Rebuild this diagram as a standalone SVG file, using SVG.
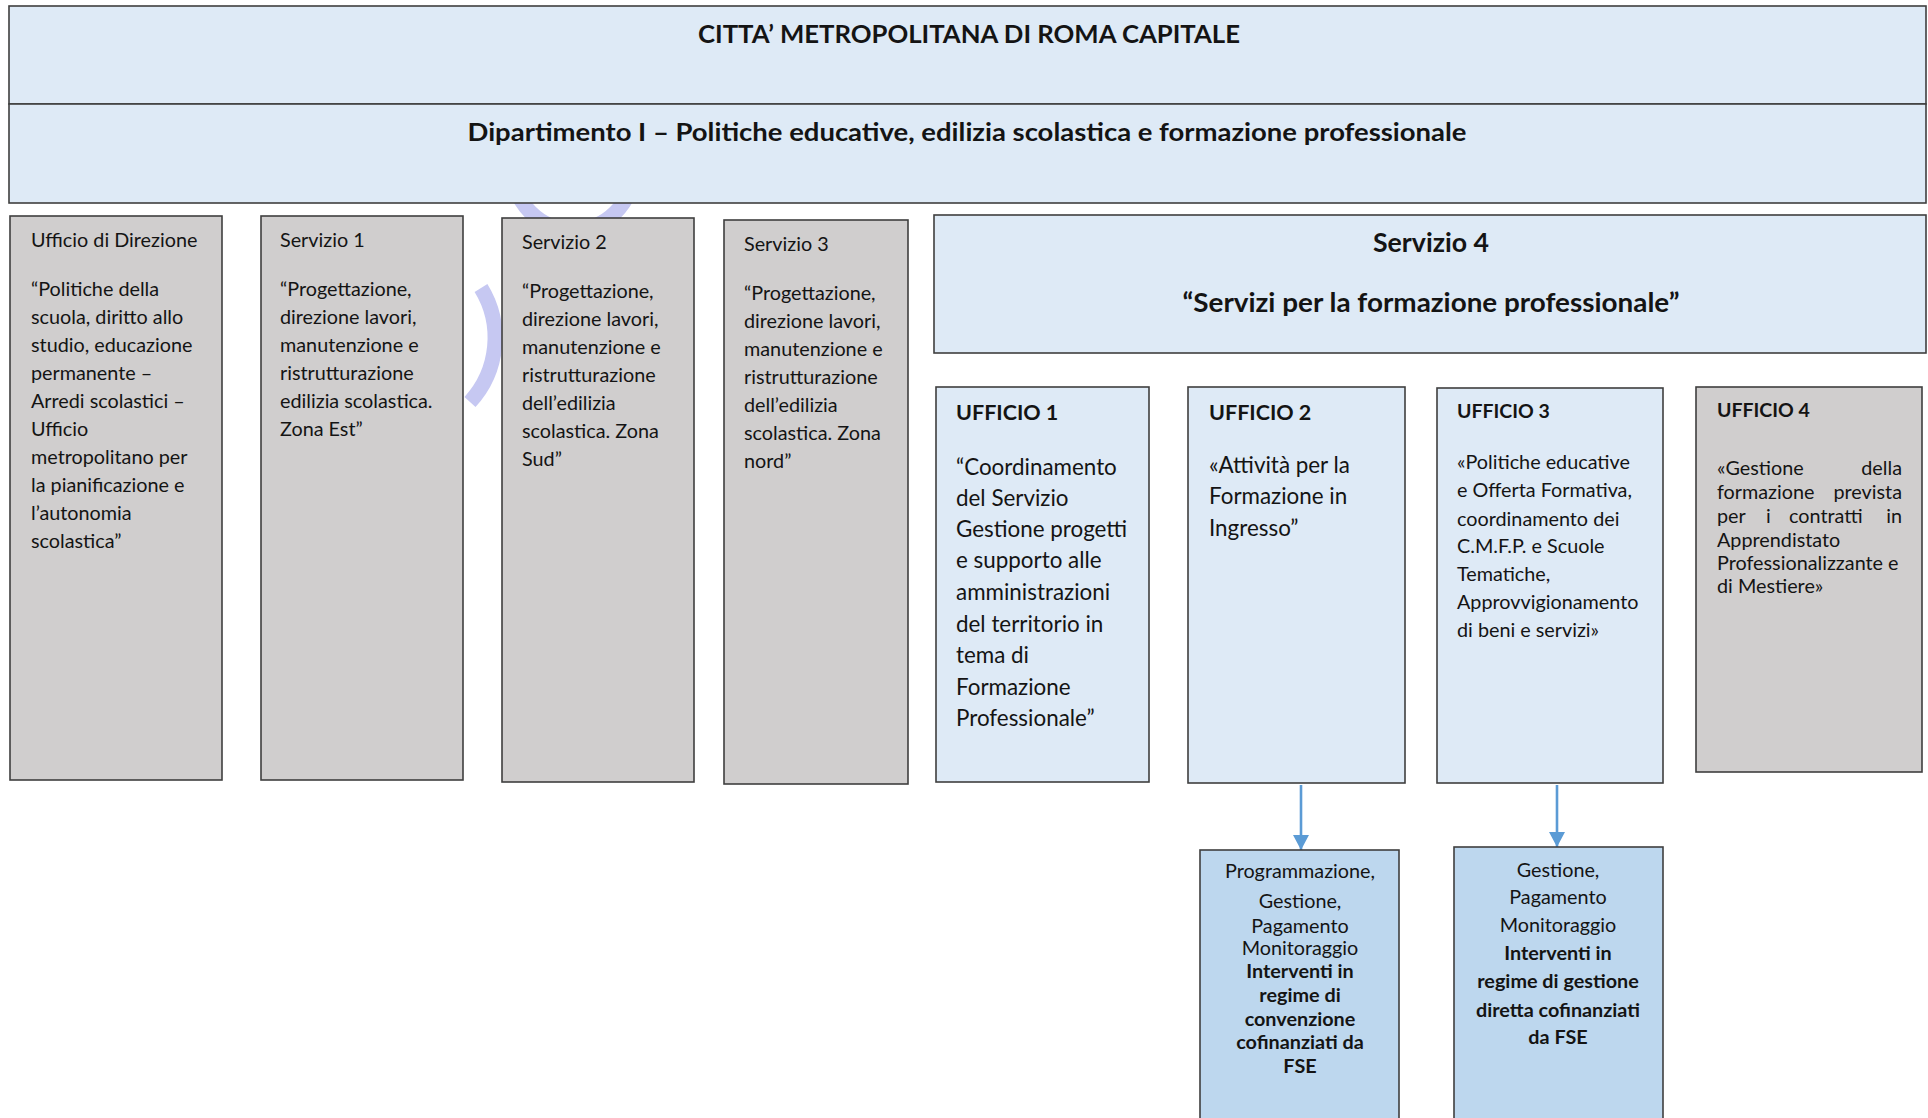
<svg xmlns="http://www.w3.org/2000/svg" width="1928" height="1118" viewBox="0 0 1928 1118">
<defs>
<style>
.box{stroke:#3f3f3f;stroke-width:1.6}
.blue{fill:#DEEAF6}
.gray{fill:#D0CECE}
.dblue{fill:#BDD7EE}
text{font-family:Lato,"Open Sans",sans-serif;fill:#141414}
.t{font-size:19.8px}
.tl{font-size:22.4px}
.b{font-weight:700}
.c{text-anchor:middle}
.e{text-anchor:end}
.wm{fill:none;stroke:#C6C8F2;stroke-width:15}
.conn{stroke:#5B9BD5;stroke-width:2.6;fill:none}
</style>
<marker id="ah" markerWidth="16" markerHeight="16" refX="15" refY="8" orient="auto" markerUnits="userSpaceOnUse">
<path d="M0,0 L15,8 L0,16 Z" fill="#5B9BD5"/>
</marker>
</defs>
<rect width="1928" height="1118" fill="#ffffff"/>
<g id="watermark">
<path class="wm" d="M481,288 A95,95 0 0 1 470,402"/>
<circle class="wm" cx="573" cy="170" r="60"/>
</g>
<g id="citta">
<rect class="box blue" x="9" y="6" width="1917" height="98"/>
<text class="b c" x="969" y="43" font-size="25" textLength="542" lengthAdjust="spacingAndGlyphs">CITTA’ METROPOLITANA DI ROMA CAPITALE</text>
</g>
<g id="dipartimento">
<rect class="box blue" x="9" y="104" width="1917" height="99"/>
<text class="b c" x="967" y="141" font-size="25.5" textLength="999" lengthAdjust="spacingAndGlyphs">Dipartimento I – Politiche educative, edilizia scolastica e formazione professionale</text>
</g>
<g id="ufficio-direzione">
<rect class="box gray" x="10" y="216" width="212" height="564"/>
<text class="t" x="31" y="247">Ufficio di Direzione</text>
<text class="t" x="31" y="296">“Politiche della</text>
<text class="t" x="31" y="324">scuola, diritto allo</text>
<text class="t" x="31" y="352">studio, educazione</text>
<text class="t" x="31" y="380">permanente –</text>
<text class="t" x="31" y="408">Arredi scolastici –</text>
<text class="t" x="31" y="436">Ufficio</text>
<text class="t" x="31" y="464">metropolitano per</text>
<text class="t" x="31" y="492">la pianificazione e</text>
<text class="t" x="31" y="520">l’autonomia</text>
<text class="t" x="31" y="548">scolastica”</text>
</g>
<g id="servizio1">
<rect class="box gray" x="261" y="216" width="202" height="564"/>
<text class="t" x="280" y="247">Servizio 1</text>
<text class="t" x="280" y="296">“Progettazione,</text>
<text class="t" x="280" y="324">direzione lavori,</text>
<text class="t" x="280" y="352">manutenzione e</text>
<text class="t" x="280" y="380">ristrutturazione</text>
<text class="t" x="280" y="408">edilizia scolastica.</text>
<text class="t" x="280" y="436">Zona Est”</text>
</g>
<g id="servizio2">
<rect class="box gray" x="502" y="218" width="192" height="564"/>
<text class="t" x="522" y="249">Servizio 2</text>
<text class="t" x="522" y="298">“Progettazione,</text>
<text class="t" x="522" y="326">direzione lavori,</text>
<text class="t" x="522" y="354">manutenzione e</text>
<text class="t" x="522" y="382">ristrutturazione</text>
<text class="t" x="522" y="410">dell’edilizia</text>
<text class="t" x="522" y="438">scolastica. Zona</text>
<text class="t" x="522" y="466">Sud”</text>
</g>
<g id="servizio3">
<rect class="box gray" x="724" y="220" width="184" height="564"/>
<text class="t" x="744" y="251">Servizio 3</text>
<text class="t" x="744" y="300">“Progettazione,</text>
<text class="t" x="744" y="328">direzione lavori,</text>
<text class="t" x="744" y="356">manutenzione e</text>
<text class="t" x="744" y="384">ristrutturazione</text>
<text class="t" x="744" y="412">dell’edilizia</text>
<text class="t" x="744" y="440">scolastica. Zona</text>
<text class="t" x="744" y="468">nord”</text>
</g>
<g id="servizio4">
<rect class="box blue" x="934" y="215" width="992" height="138"/>
<text class="b c" x="1431" y="252" font-size="27" textLength="116" lengthAdjust="spacingAndGlyphs">Servizio 4</text>
<text class="b c" x="1431" y="312" font-size="26" textLength="497" lengthAdjust="spacingAndGlyphs">“Servizi per la formazione professionale”</text>
</g>
<g id="ufficio1">
<rect class="box blue" x="936" y="387" width="213" height="395"/>
<text class="b" x="956" y="420" font-size="21.5">UFFICIO 1</text>
<text class="tl" x="956" y="475">“Coordinamento</text>
<text class="tl" x="956" y="506">del Servizio</text>
<text class="tl" x="956" y="537">Gestione progetti</text>
<text class="tl" x="956" y="568">e supporto alle</text>
<text class="tl" x="956" y="600">amministrazioni</text>
<text class="tl" x="956" y="632">del territorio in</text>
<text class="tl" x="956" y="663">tema di</text>
<text class="tl" x="956" y="695">Formazione</text>
<text class="tl" x="956" y="726">Professionale”</text>
</g>
<g id="ufficio2">
<rect class="box blue" x="1188" y="387" width="217" height="396"/>
<text class="b" x="1209" y="420" font-size="21.5">UFFICIO 2</text>
<text class="tl" x="1209" y="473">«Attività per la</text>
<text class="tl" x="1209" y="504">Formazione in</text>
<text class="tl" x="1209" y="536">Ingresso”</text>
</g>
<g id="ufficio3">
<rect class="box blue" x="1437" y="388" width="226" height="395"/>
<text class="b" x="1457" y="418" font-size="19.5">UFFICIO 3</text>
<text class="t" x="1457" y="469">«Politiche educative</text>
<text class="t" x="1457" y="497">e Offerta Formativa,</text>
<text class="t" x="1457" y="526">coordinamento dei</text>
<text class="t" x="1457" y="553">C.M.F.P. e Scuole</text>
<text class="t" x="1457" y="581">Tematiche,</text>
<text class="t" x="1457" y="609">Approvvigionamento</text>
<text class="t" x="1457" y="637">di beni e servizi»</text>
</g>
<g id="ufficio4">
<rect class="box gray" x="1696" y="387" width="226" height="385"/>
<text class="b" x="1717" y="417" font-size="19.5">UFFICIO 4</text>
<text class="t" x="1717" y="475">«Gestione</text>
<text class="t e" x="1902" y="475">della</text>
<text class="t" x="1717" y="499">formazione</text>
<text class="t e" x="1902" y="499">prevista</text>
<text class="t" x="1717" y="523">per</text>
<text class="t" x="1766" y="523">i</text>
<text class="t" x="1789" y="523">contratti</text>
<text class="t e" x="1902" y="523">in</text>
<text class="t" x="1717" y="547">Apprendistato</text>
<text class="t" x="1717" y="570">Professionalizzante e</text>
<text class="t" x="1717" y="593">di Mestiere»</text>
</g>
<g id="connectors">
<line class="conn" x1="1301" y1="785" x2="1301" y2="850" marker-end="url(#ah)"/>
<line class="conn" x1="1557" y1="785" x2="1557" y2="847" marker-end="url(#ah)"/>
</g>
<g id="programmazione">
<rect class="box dblue" x="1200" y="850" width="199" height="280"/>
<text class="t c" x="1300" y="878">Programmazione,</text>
<text class="t c" x="1300" y="908">Gestione,</text>
<text class="t c" x="1300" y="933">Pagamento</text>
<text class="t c" x="1300" y="955">Monitoraggio</text>
<text class="t b c" x="1300" y="978">Interventi in</text>
<text class="t b c" x="1300" y="1002">regime di</text>
<text class="t b c" x="1300" y="1026">convenzione</text>
<text class="t b c" x="1300" y="1049">cofinanziati da</text>
<text class="t b c" x="1300" y="1073">FSE</text>
</g>
<g id="gestione">
<rect class="box dblue" x="1454" y="847" width="209" height="283"/>
<text class="t c" x="1558" y="877">Gestione,</text>
<text class="t c" x="1558" y="904">Pagamento</text>
<text class="t c" x="1558" y="932">Monitoraggio</text>
<text class="t b c" x="1558" y="960">Interventi in</text>
<text class="t b c" x="1558" y="988">regime di gestione</text>
<text class="t b c" x="1558" y="1017">diretta cofinanziati</text>
<text class="t b c" x="1558" y="1044">da FSE</text>
</g>
</svg>
